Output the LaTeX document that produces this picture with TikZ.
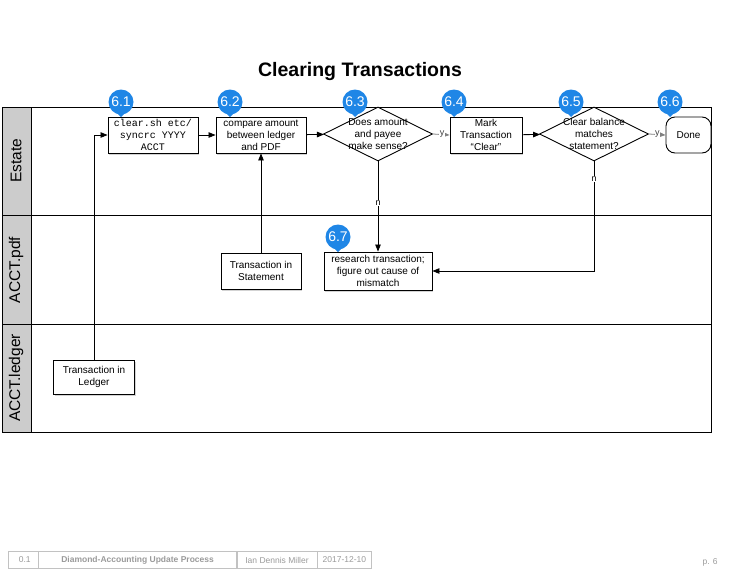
\documentclass[tikz,border=0pt]{standalone}
\usepackage{fontspec}
\setmainfont{Liberation Sans}
\setmonofont{Liberation Mono}
\usetikzlibrary{shapes.geometric,arrows.meta,shadows,positioning}
\definecolor{lanegray}{HTML}{CCCCCC}
\definecolor{badgeblue}{HTML}{1F86E6}
\definecolor{footgray}{HTML}{9A9A9A}

\tikzset{
  txt/.style={font=\fontsize{10}{12}\selectfont, align=center},
  proc/.style={txt, draw, line width=0.9pt, fill=white, inner sep=1pt,
    minimum width=90pt, minimum height=36pt,
    drop shadow={shadow xshift=1pt, shadow yshift=-1.5pt, opacity=0.35}},
  decision/.style={diamond, draw, line width=0.9pt, fill=white, inner sep=0pt,
    minimum width=109pt, minimum height=54pt},
  terminal/.style={txt, draw, line width=0.9pt, fill=white, rounded corners=9pt,
    minimum width=45pt, minimum height=36pt},
  badge/.style={circle, fill=badgeblue, text=white, inner sep=0pt,
    minimum size=25pt, font=\fontsize{14}{14}\selectfont},
  arr/.style={-{Triangle[length=7pt,width=5.5pt]}, line width=0.8pt},
  lbl/.style={font=\fontsize{9}{9}\selectfont, fill=white, inner sep=0.5pt},
  lanename/.style={rotate=90, font=\fontsize{15.5}{15.5}\selectfont},
  footcell/.style={draw=footgray!60, text=footgray, minimum height=17pt,
    inner sep=0pt, font=\fontsize{8.5}{8.5}\selectfont, anchor=west}
}

\begin{document}
\begin{tikzpicture}[x=1pt,y=-1pt]
  \useasboundingbox (0,0) rectangle (734,576);

  % Title
  \node[font=\bfseries\fontsize{19.5}{19.5}\selectfont] (title) at (360,71) {Clearing Transactions};

  % Pool and lanes
  \fill[lanegray] (2,107) rectangle (31,432);
  \draw[line width=0.9pt] (2,107) rectangle (711,432);
  \draw[line width=0.9pt] (31,107) -- (31,432);
  \draw[line width=0.9pt] (2,215) -- (711,215);
  \draw[line width=0.9pt] (2,324) -- (711,324);
  \node[lanename] (estate) at (16,161) {Estate};
  \node[lanename] (pdf) at (16,270) {ACCT.pdf};
  \node[lanename] (ledger) at (16,378) {ACCT.ledger};

  % Steps
  \node[proc, font=\ttfamily\fontsize{10}{12}\selectfont] (p61) at (153,135) {clear.sh etc/\\syncrc YYYY\\ACCT};
  \node[proc] (p62) at (261,135) {compare amount\\between ledger\\and PDF};
  \node[decision] (d63) at (378,134) {};
  \node[txt] (t63) at (d63.center) {Does amount\\and payee\\make sense?};
  \node[proc, minimum width=72pt] (p64) at (486,135) {Mark\\Transaction\\``Clear''};
  \node[decision] (d65) at (594,134) {};
  \node[txt] (t65) at (d65.center) {Clear balance\\matches\\statement?};
  \node[terminal] (p66) at (688.5,135) {Done};
  \node[proc, minimum width=108pt, minimum height=38pt] (p67) at (378,271) {research transaction;\\figure out cause of\\mismatch};
  \node[proc, line width=0.6pt, minimum width=80pt] (stmt) at (261,271) {Transaction in\\Statement};
  \node[proc, line width=0.6pt, minimum width=81pt, minimum height=34pt] (ldg) at (94,377) {Transaction in\\Ledger};

  % Connectors
  \draw[arr] (ldg.north) |- (p61.west);
  \draw[arr] (p61) -- (p62);
  \draw[arr] (p62) -- (d63);
  \draw[arr] (stmt.north) -- (p62.south);
  \draw[arr, gray] (d63.east) -- node[lbl, pos=0.55, text=black!75] {y} (p64.west);
  \draw[arr, gray] (d65.east) -- node[lbl, pos=0.5, text=black!75] {y} (p66.west);
  \draw[arr] (p64) -- (d65);
  \draw[arr] (d63.south) -- node[lbl, pos=0.46] {n} (p67.north);
  \draw[arr] (d65.south) |- node[lbl, pos=0.08] {n} (p67.east);

  % Step numbers
  \foreach \i/\x/\y in {1/121/102, 2/230/102, 3/355/102, 4/454/102, 5/571/102, 6/670/102, 7/338/237} {
    \fill[badgeblue] (\x-6,\y+9) -- (\x,\y+15) -- (\x+6,\y+9) -- cycle;
    \node[badge] (b\i) at (\x,\y) {6.\i};
  }

  % Footer
  \node[footcell, minimum width=30pt] (fver) at (8,560) {\hspace{3pt}0.1\hfill};
  \node[footcell, minimum width=198pt, font=\bfseries\fontsize{8.5}{8.5}\selectfont] (fname) at (fver.east) {Diamond-Accounting Update Process};
  \node[footcell, minimum width=80pt] (fauth) at (fname.east) {Ian Dennis Miller};
  \node[footcell, minimum width=54pt] (fdate) at (fauth.east) {2017-12-10};
  \node[text=footgray, font=\fontsize{8.5}{8.5}\selectfont] (fpage) at (710,562) {p. 6};
\end{tikzpicture}
\end{document}
